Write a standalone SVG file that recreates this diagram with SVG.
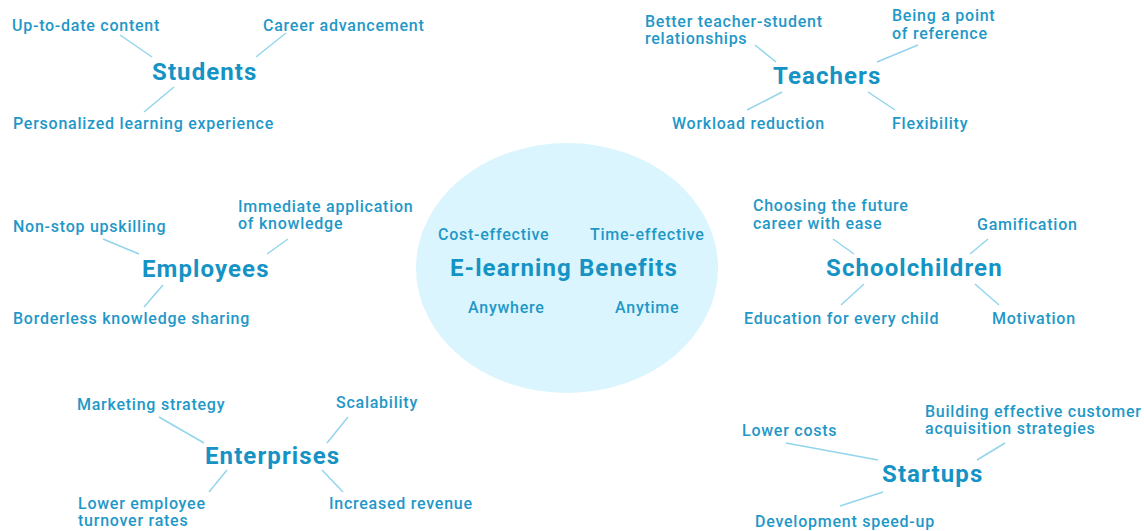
<svg xmlns="http://www.w3.org/2000/svg" width="1144" height="531" viewBox="0 0 1144 531">
  <style>
    .lbl { font-family: Roboto, "Liberation Sans", sans-serif; font-weight: 500; font-size: 16px; letter-spacing: 0.75px; fill: #1f98c8; }
    .ttl { font-family: Roboto, "Liberation Sans", sans-serif; font-weight: 700; font-size: 24px; letter-spacing: 1.1px; fill: #1593c4; }
    .conn line { stroke: #92d5ec; stroke-width: 1.5; }
  </style>
  <rect width="1144" height="531" fill="#ffffff"/>

  <!-- connectors -->
  <g id="connectors" class="conn">
    <line x1="120" y1="35" x2="152" y2="57"/>
    <line x1="286" y1="33" x2="256" y2="57"/>
    <line x1="174" y1="87" x2="144" y2="112"/>

    <line x1="755" y1="45" x2="776" y2="62"/>
    <line x1="918" y1="45" x2="877" y2="62"/>
    <line x1="782" y1="92" x2="747" y2="110"/>
    <line x1="868" y1="92" x2="895" y2="110"/>

    <line x1="103" y1="239" x2="139" y2="254"/>
    <line x1="288" y1="239" x2="267" y2="254"/>
    <line x1="163" y1="285" x2="144" y2="307"/>

    <line x1="833" y1="239" x2="854" y2="254"/>
    <line x1="988" y1="239" x2="970" y2="254"/>
    <line x1="864" y1="284" x2="841" y2="305"/>
    <line x1="975" y1="284" x2="999" y2="305"/>

    <line x1="159" y1="417" x2="204" y2="443"/>
    <line x1="348" y1="417" x2="327" y2="443"/>
    <line x1="227" y1="470" x2="209" y2="492"/>
    <line x1="322" y1="470" x2="343" y2="492"/>

    <line x1="786" y1="443" x2="878" y2="460"/>
    <line x1="1005" y1="443" x2="977" y2="460"/>
    <line x1="883" y1="492" x2="840" y2="506"/>
  </g>

  <!-- central hub -->
  <g id="hub">
    <ellipse cx="567" cy="268" rx="151" ry="125" fill="#daf5fd"/>
    <text class="ttl" x="450" y="276">E-learning Benefits</text>
    <text class="lbl" x="438" y="240">Cost-effective</text>
    <text class="lbl" x="590" y="240">Time-effective</text>
    <text class="lbl" x="468" y="313">Anywhere</text>
    <text class="lbl" x="615" y="313">Anytime</text>
  </g>

  <g id="students">
    <text class="ttl" x="152" y="80">Students</text>
    <text class="lbl" x="12" y="31">Up-to-date content</text>
    <text class="lbl" x="263" y="31">Career advancement</text>
    <text class="lbl" x="13" y="129">Personalized learning experience</text>
  </g>

  <g id="teachers">
    <text class="ttl" x="773" y="84">Teachers</text>
    <text class="lbl" x="645" y="27">Better teacher-student</text>
    <text class="lbl" x="645" y="44">relationships</text>
    <text class="lbl" x="892" y="21">Being a point</text>
    <text class="lbl" x="892" y="39">of reference</text>
    <text class="lbl" x="672" y="129">Workload reduction</text>
    <text class="lbl" x="892" y="129">Flexibility</text>
  </g>

  <g id="employees">
    <text class="ttl" x="142" y="277">Employees</text>
    <text class="lbl" x="13" y="232">Non-stop upskilling</text>
    <text class="lbl" x="238" y="212">Immediate application</text>
    <text class="lbl" x="238" y="229">of knowledge</text>
    <text class="lbl" x="13" y="324">Borderless knowledge sharing</text>
  </g>

  <g id="schoolchildren">
    <text class="ttl" x="826" y="276">Schoolchildren</text>
    <text class="lbl" x="753" y="211">Choosing the future</text>
    <text class="lbl" x="753" y="229">career with ease</text>
    <text class="lbl" x="977" y="230">Gamification</text>
    <text class="lbl" x="744" y="324">Education for every child</text>
    <text class="lbl" x="992" y="324">Motivation</text>
  </g>

  <g id="enterprises">
    <text class="ttl" x="205" y="464">Enterprises</text>
    <text class="lbl" x="77" y="410">Marketing strategy</text>
    <text class="lbl" x="336" y="408">Scalability</text>
    <text class="lbl" x="78" y="509">Lower employee</text>
    <text class="lbl" x="78" y="526">turnover rates</text>
    <text class="lbl" x="329" y="509">Increased revenue</text>
  </g>

  <g id="startups">
    <text class="ttl" x="882" y="482">Startups</text>
    <text class="lbl" x="742" y="436">Lower costs</text>
    <text class="lbl" x="925" y="417">Building effective customer</text>
    <text class="lbl" x="925" y="434">acquisition strategies</text>
    <text class="lbl" x="755" y="527">Development speed-up</text>
  </g>
</svg>
